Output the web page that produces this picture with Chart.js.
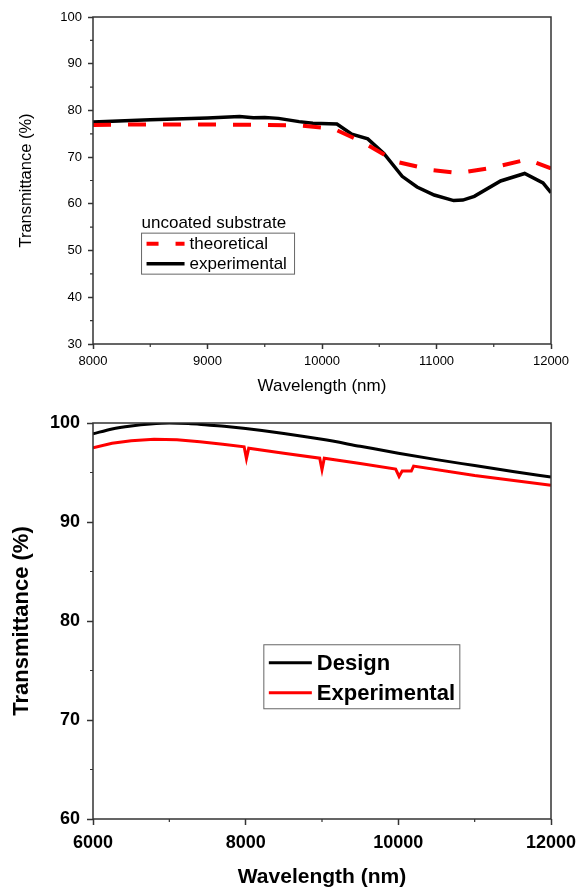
<!DOCTYPE html>
<html>
<head>
<meta charset="utf-8">
<script src="https://cdn.jsdelivr.net/npm/chart.js@4.4.1/dist/chart.umd.min.js"></script>
<style>
  html, body { margin: 0; padding: 0; background: #fff; }
  canvas { display: block; }
</style>
</head>
<body>
<canvas id="topChart" width="584" height="400"></canvas>
<canvas id="bottomChart" width="584" height="490"></canvas>
<script>
// Top panel : uncoated substrate
const topExpX = [8000, 8500, 9000, 9280, 9400, 9500, 9620, 9800, 9920, 10130, 10260, 10400, 10540, 10700, 10830, 10980, 11150, 11230, 11330, 11560, 11770, 11930, 12000];
const topExpY = [77.5, 78.0, 78.4, 78.7, 78.45, 78.5, 78.3, 77.6, 77.25, 77.1, 74.9, 73.9, 70.8, 65.9, 63.6, 61.9, 60.7, 60.8, 61.6, 64.9, 66.5, 64.5, 62.4];
const topTheoX = [8000, 8500, 9000, 9500, 9800, 10100, 10350, 10650, 10970, 11200, 11500, 11790, 12000];
const topTheoY = [76.9, 77.0, 77.0, 76.9, 76.8, 76.1, 73.3, 69.0, 67.2, 66.6, 67.8, 69.5, 67.6];
const topLabels = ["theoretical", "experimental"];

// Bottom panel : coated
const botDesignX = [6000, 6250, 6500, 6750, 7000, 7250, 7500, 7750, 8000, 8500, 9000, 9500, 10000, 10500, 11000, 11500, 12000];
const botDesignY = [98.9, 99.4, 99.7, 99.9, 100.0, 99.95, 99.8, 99.65, 99.45, 98.95, 98.35, 97.65, 96.95, 96.3, 95.7, 95.1, 94.55];
const botExpX = [6000, 6250, 6500, 6800, 7100, 7400, 7700, 7980, 8010, 8040, 8500, 8970, 9000, 9030, 9500, 9965, 10010, 10050, 10170, 10200, 11000, 12000];
const botExpY = [97.5, 97.95, 98.2, 98.35, 98.3, 98.1, 97.85, 97.6, 96.4, 97.45, 96.95, 96.45, 95.3, 96.45, 95.9, 95.35, 94.6, 95.15, 95.15, 95.65, 94.7, 93.7];
const botLabels = ["Design", "Experimental"];

const FONT = "'Liberation Sans', Arial, sans-serif";
const AXIS = "#333";

const pts = (xs, ys) => xs.map((x, i) => ({ x, y: ys[i] }));

// cadre + petites graduations + legende maison
const framePlugin = {
  id: "frame",
  afterDraw(chart, args, o) {
    const { ctx, chartArea: a, scales } = chart;
    ctx.save();
    ctx.strokeStyle = AXIS;
    ctx.lineWidth = 1.5;
    ctx.strokeRect(a.left, a.top, a.right - a.left, a.bottom - a.top);
    ctx.lineWidth = 1.2;
    ctx.beginPath();
    scales.x.ticks.forEach(t => {
      if (t.value % o.xMajor !== 0) {
        const px = scales.x.getPixelForValue(t.value);
        ctx.moveTo(px, a.bottom); ctx.lineTo(px, a.bottom + o.minorLen);
      }
    });
    scales.y.ticks.forEach(t => {
      if (t.value % o.yMajor !== 0) {
        const py = scales.y.getPixelForValue(t.value);
        ctx.moveTo(a.left, py); ctx.lineTo(a.left - o.minorLen, py);
      }
    });
    ctx.stroke();

    // legende
    const L = o.legend;
    const w = a.right - a.left, h = a.bottom - a.top;
    const bx = a.left + L.x * w, by = a.top + L.y * h;
    ctx.font = L.font;
    ctx.textBaseline = "middle";
    ctx.fillStyle = "#000";
    if (L.title) ctx.fillText(L.title, bx, by - L.titleGap);
    ctx.strokeStyle = "#666";
    ctx.lineWidth = 1;
    ctx.strokeRect(bx, by, L.w, L.h);
    chart.data.datasets.forEach((ds, i) => {
      const yy = by + L.rowTop + i * L.rowGap;
      ctx.save();
      ctx.strokeStyle = ds.borderColor;
      ctx.lineWidth = ds.borderWidth;
      ctx.setLineDash(ds.borderDash || []);
      ctx.lineDashOffset = L.dashOffset || 0;
      ctx.beginPath();
      ctx.moveTo(bx + 5, yy); ctx.lineTo(bx + 5 + L.sample, yy);
      ctx.stroke();
      ctx.restore();
      ctx.fillStyle = "#000";
      ctx.fillText(ds.label, bx + 10 + L.sample, yy + 1);
    });
    ctx.restore();
  }
};

function axisTicks(major, len) {
  return {
    display: true,
    drawOnChartArea: false,
    drawTicks: true,
    tickLength: len,
    tickWidth: 1.5,
    tickColor: c => (c.tick && c.tick.value % major === 0) ? AXIS : "rgba(0,0,0,0)"
  };
}

// ---------- graphe du haut ----------
new Chart(document.getElementById("topChart"), {
  type: "line",
  data: {
    datasets: [
      { label: topLabels[0], data: pts(topTheoX, topTheoY), borderColor: "#ff0000", borderWidth: 4, borderDash: [18, 17], pointRadius: 0, tension: 0, fill: false },
      { label: topLabels[1], data: pts(topExpX, topExpY), borderColor: "#000000", borderWidth: 3.5, pointRadius: 0, tension: 0, fill: false }
    ]
  },
  options: {
    responsive: false,
    animation: false,
    devicePixelRatio: 1,
    layout: { padding: { top: 17, right: 33, left: 0, bottom: 0 } },
    plugins: {
      legend: { display: false },
      tooltip: { enabled: false },
      frame: {
        xMajor: 1000, yMajor: 10, minorLen: 3,
        legend: { x: 0.106, y: 0.661, w: 153, h: 41, rowTop: 10.5, rowGap: 20, sample: 38, dashOffset: 6, title: "uncoated substrate", titleGap: 10, font: "17px " + FONT }
      }
    },
    scales: {
      x: {
        type: "linear", min: 8000, max: 12000,
        border: { display: false },
        grid: axisTicks(1000, 5),
        ticks: { stepSize: 500, autoSkip: false, maxRotation: 0, padding: 5, color: "#000", font: { family: FONT, size: 13 }, callback: v => v % 1000 === 0 ? v : "" },
        title: { display: true, text: "Wavelength (nm)", color: "#000", font: { family: FONT, size: 17 }, padding: { top: 0, bottom: 3 } },
        afterFit: s => { s.height = 56; }
      },
      y: {
        min: 30, max: 100,
        border: { display: false },
        grid: axisTicks(10, 5),
        ticks: { stepSize: 5, autoSkip: false, padding: 6, color: "#000", font: { family: FONT, size: 13 }, callback: v => v % 10 === 0 ? v : "" },
        title: { display: true, text: "Transmittance (%)", color: "#000", font: { family: FONT, size: 16.5 }, padding: { top: 17, bottom: 0 } },
        afterFit: s => { s.width = 93; }
      }
    }
  },
  plugins: [framePlugin]
});

// ---------- graphe du bas ----------
new Chart(document.getElementById("bottomChart"), {
  type: "line",
  data: {
    datasets: [
      { label: botLabels[0], data: pts(botDesignX, botDesignY), borderColor: "#000000", borderWidth: 3, pointRadius: 0, cubicInterpolationMode: "monotone", fill: false },
      { label: botLabels[1], data: pts(botExpX, botExpY), borderColor: "#ff0000", borderWidth: 3, pointRadius: 0, tension: 0, fill: false }
    ]
  },
  options: {
    responsive: false,
    animation: false,
    devicePixelRatio: 1,
    layout: { padding: { top: 23, right: 33, left: 0, bottom: 0 } },
    plugins: {
      legend: { display: false },
      tooltip: { enabled: false },
      frame: {
        xMajor: 2000, yMajor: 10, minorLen: 3,
        legend: { x: 0.373, y: 0.56, w: 196, h: 64, rowTop: 18, rowGap: 30, sample: 43, font: "bold 22px " + FONT }
      }
    },
    scales: {
      x: {
        type: "linear", min: 6000, max: 12000,
        border: { display: false },
        grid: axisTicks(2000, 6),
        ticks: { stepSize: 1000, autoSkip: false, maxRotation: 0, padding: 7, color: "#000", font: { family: FONT, size: 18, weight: "bold" }, callback: v => v % 2000 === 0 ? v : "" },
        title: { display: true, text: "Wavelength (nm)", color: "#000", font: { family: FONT, size: 21, weight: "bold" }, padding: { top: 0, bottom: 0 } },
        afterFit: s => { s.height = 71; }
      },
      y: {
        min: 60, max: 100,
        border: { display: false },
        grid: axisTicks(10, 6),
        ticks: { stepSize: 5, autoSkip: false, padding: 7, color: "#000", font: { family: FONT, size: 18, weight: "bold" }, callback: v => v % 10 === 0 ? v : "" },
        title: { display: true, text: "Transmittance (%)", color: "#000", font: { family: FONT, size: 22, weight: "bold" }, padding: { top: 9, bottom: 0 } },
        afterFit: s => { s.width = 93; }
      }
    }
  },
  plugins: [framePlugin]
});
</script>
</body>
</html>
